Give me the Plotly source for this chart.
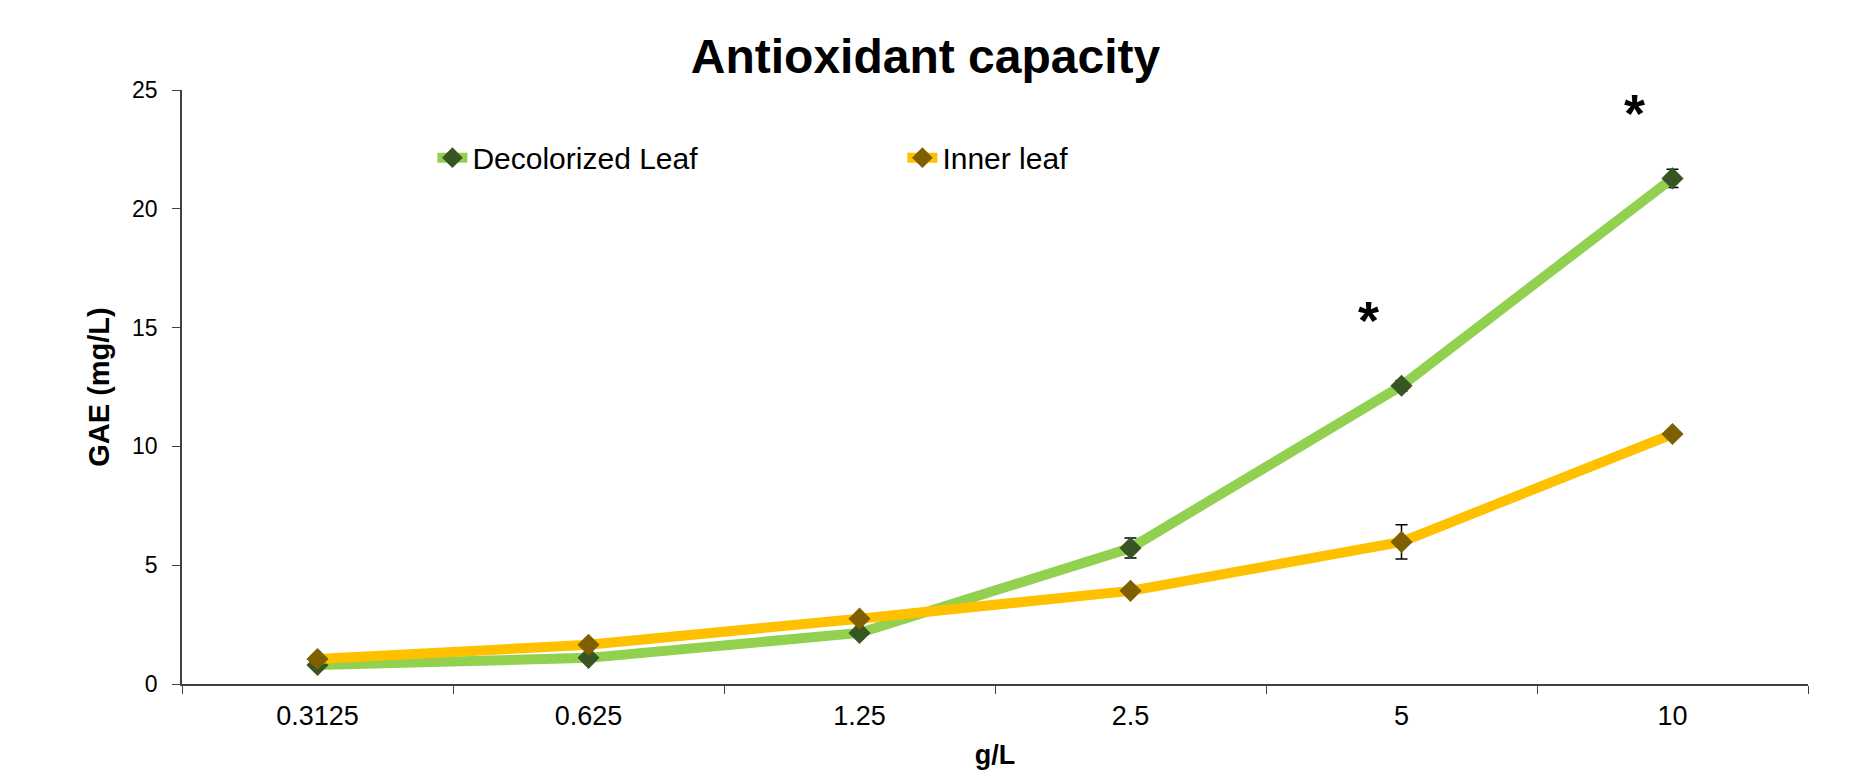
import plotly.graph_objects as go

# Extract concentration (g/L)
concentrations = ["0.3125", "0.625", "1.25", "2.5", "5", "10"]

# Gallic acid equivalents (mg/L)
decolorized_leaf = [0.80, 1.10, 2.15, 5.72, 12.55, 21.28]
decolorized_leaf_err = [0.10, 0.10, 0.12, 0.42, 0.22, 0.38]
inner_leaf = [1.05, 1.65, 2.75, 3.92, 5.98, 10.52]
inner_leaf_err = [0.08, 0.10, 0.12, 0.12, 0.72, 0.12]

# Significance markers (category position, height)
sig_x = [3.88, 4.86]
sig_y = [15.7, 24.4]

FONT = "Liberation Sans, Arial, sans-serif"

fig = go.Figure()

fig.add_trace(go.Scatter(
    x=concentrations, y=decolorized_leaf, name="Decolorized Leaf",
    mode="lines+markers",
    line=dict(color="#92D050", width=10),
    marker=dict(symbol="diamond", size=17, color="#375623"),
    error_y=dict(type="data", array=decolorized_leaf_err, visible=True,
                 color="black", thickness=1.5, width=6),
))
fig.add_trace(go.Scatter(
    x=concentrations, y=inner_leaf, name="Inner leaf",
    mode="lines+markers",
    line=dict(color="#FFC000", width=10),
    marker=dict(symbol="diamond", size=17, color="#7F6000"),
    error_y=dict(type="data", array=inner_leaf_err, visible=True,
                 color="black", thickness=1.5, width=6),
))

for sx, sy in zip(sig_x, sig_y):
    fig.add_annotation(x=sx, y=sy, xref="x", yref="y", text="<b>*</b>",
                       showarrow=False, font=dict(family=FONT, size=54, color="black"),
                       yanchor="middle", yshift=-9)

fig.update_layout(
    width=1864, height=777,
    margin=dict(l=182, r=56, t=90, b=89),
    paper_bgcolor="white", plot_bgcolor="white",
    title=dict(text="<b>Antioxidant capacity</b>", x=0.4965, xanchor="center",
               y=0.928, yanchor="middle",
               font=dict(family=FONT, size=48, color="black")),
    showlegend=True,
    legend=dict(orientation="h", x=0.154, y=0.886, xanchor="left", yanchor="middle",
                entrywidth=425, entrywidthmode="pixels",
                font=dict(family=FONT, size=30, color="black"),
                bgcolor="rgba(0,0,0,0)"),
    xaxis=dict(
        type="category", range=[-0.5, 5.5],
        tickson="boundaries", ticks="outside", ticklen=8, tickcolor="#404040",
        showline=True, linecolor="#404040", linewidth=1.5,
        showgrid=False, zeroline=False,
        tickfont=dict(family=FONT, size=27, color="black"),
        ticklabelstandoff=7,
        title=dict(text="<b>g/L</b>", font=dict(family=FONT, size=27, color="black"),
                   standoff=15),
    ),
    yaxis=dict(
        range=[0, 25], tickvals=[0, 5, 10, 15, 20, 25],
        ticks="outside", ticklen=8, tickcolor="#404040",
        showline=True, linecolor="#404040", linewidth=1.5,
        showgrid=False, zeroline=False,
        tickfont=dict(family=FONT, size=23, color="black"),
        ticklabelstandoff=10,
        title=dict(text="<b>GAE (mg/L)</b>", font=dict(family=FONT, size=29, color="black"),
                   standoff=14),
    ),
)

fig.write_html("out.html")
